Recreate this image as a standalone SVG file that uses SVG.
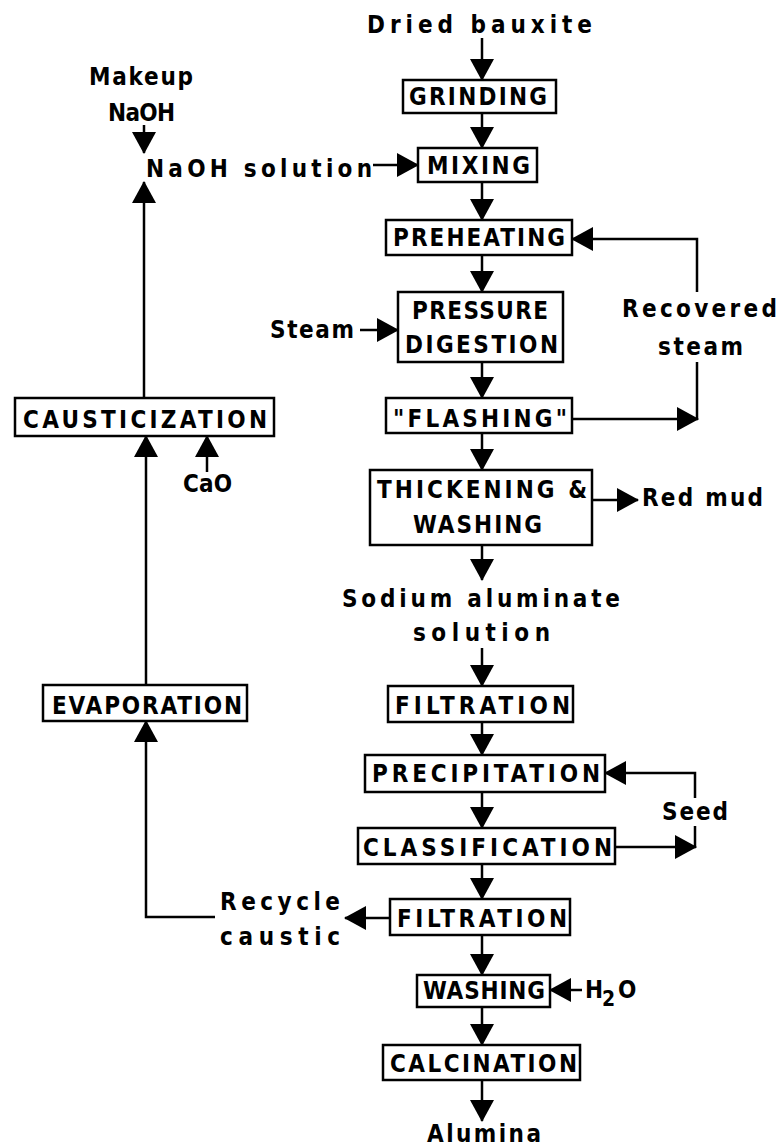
<svg xmlns="http://www.w3.org/2000/svg" width="783" height="1146" viewBox="0 0 783 1146">
<style>
  .box rect { fill: #fff; stroke: #000; stroke-width: 2.5; }
  text { font-family: "DejaVu Sans Condensed", "DejaVu Sans", "Liberation Sans", sans-serif; font-stretch: condensed; font-size: 24px; font-weight: bold; fill: #000; }
  .conn path, .conn line { fill: none; stroke: #000; stroke-width: 2.5; }
  .arr { marker-end: url(#ah); }
</style>
<defs>
  <marker id="ah" viewBox="0 0 22 24" refX="21" refY="12" markerWidth="22" markerHeight="24" markerUnits="userSpaceOnUse" orient="auto">
    <path d="M0,0 L22,12 L0,24 Z" fill="#000"/>
  </marker>
</defs>
<rect width="783" height="1146" fill="#fff"/>

<g id="connectors" class="conn">
  <line class="arr" x1="482" y1="38" x2="482" y2="80"/>
  <line class="arr" x1="482" y1="113" x2="482" y2="148"/>
  <line class="arr" x1="373" y1="165" x2="418" y2="165"/>
  <line class="arr" x1="482" y1="182" x2="482" y2="220"/>
  <line class="arr" x1="482" y1="255" x2="482" y2="292"/>
  <line class="arr" x1="360" y1="330" x2="398" y2="330"/>
  <line class="arr" x1="482" y1="362" x2="482" y2="398"/>
  <line class="arr" x1="572" y1="419" x2="698" y2="419"/>
  <line x1="697" y1="420" x2="697" y2="362"/>
  <path class="arr" d="M697,292 V239 H572"/>
  <line class="arr" x1="482" y1="433" x2="482" y2="470"/>
  <line class="arr" x1="592" y1="500" x2="638" y2="500"/>
  <line class="arr" x1="482" y1="545" x2="482" y2="580"/>
  <line class="arr" x1="482" y1="648" x2="482" y2="686"/>
  <line class="arr" x1="482" y1="722" x2="482" y2="755"/>
  <line class="arr" x1="482" y1="792" x2="482" y2="828"/>
  <line class="arr" x1="615" y1="847" x2="696" y2="847"/>
  <line x1="695" y1="848" x2="695" y2="826"/>
  <path class="arr" d="M695,798 V773 H605"/>
  <line class="arr" x1="482" y1="864" x2="482" y2="899"/>
  <line class="arr" x1="390" y1="918" x2="345" y2="918"/>
  <path class="arr" d="M215,917 H146 V721"/>
  <line class="arr" x1="482" y1="935" x2="482" y2="975"/>
  <line class="arr" x1="582" y1="990" x2="550" y2="990"/>
  <line class="arr" x1="482" y1="1007" x2="482" y2="1045"/>
  <line class="arr" x1="482" y1="1080" x2="482" y2="1121"/>
  <line class="arr" x1="146" y1="685" x2="146" y2="436"/>
  <line class="arr" x1="207" y1="472" x2="207" y2="436"/>
  <line class="arr" x1="144" y1="398" x2="144" y2="182"/>
  <line class="arr" x1="144" y1="125" x2="144" y2="153"/>
</g>

<g id="n-dried"><text x="367" y="33" textLength="225" lengthAdjust="spacing">Dried bauxite</text></g>
<g id="n-grinding" class="box"><rect x="403" y="80" width="153" height="33"/><text x="409" y="105" textLength="138" lengthAdjust="spacing">GRINDING</text></g>
<g id="n-mixing" class="box"><rect x="418" y="148" width="119" height="34"/><text x="427" y="174" textLength="103" lengthAdjust="spacing">MIXING</text></g>
<g id="n-preheating" class="box"><rect x="386" y="220" width="186" height="35"/><text x="393" y="246" textLength="172" lengthAdjust="spacing">PREHEATING</text></g>
<g id="n-digestion" class="box"><rect x="398" y="292" width="165" height="70"/><text x="412" y="319" textLength="136" lengthAdjust="spacing">PRESSURE</text><text x="405" y="353" textLength="153" lengthAdjust="spacing">DIGESTION</text></g>
<g id="n-flashing" class="box"><rect x="386" y="398" width="186" height="35"/><text x="393" y="427" textLength="174" lengthAdjust="spacing">"FLASHING"</text></g>
<g id="n-thickening" class="box"><rect x="370" y="470" width="222" height="75"/><text x="377" y="498" textLength="210" lengthAdjust="spacing">THICKENING &amp;</text><text x="413" y="533" textLength="129" lengthAdjust="spacing">WASHING</text></g>
<g id="n-sodium"><text x="342" y="607" textLength="278" lengthAdjust="spacing">Sodium aluminate</text><text x="413" y="641" textLength="137" lengthAdjust="spacing">solution</text></g>
<g id="n-filtration1" class="box"><rect x="388" y="686" width="185" height="36"/><text x="395" y="714" textLength="175" lengthAdjust="spacing">FILTRATION</text></g>
<g id="n-precipitation" class="box"><rect x="365" y="755" width="240" height="37"/><text x="372" y="782" textLength="228" lengthAdjust="spacing">PRECIPITATION</text></g>
<g id="n-classification" class="box"><rect x="358" y="828" width="257" height="36"/><text x="363" y="856" textLength="249" lengthAdjust="spacing">CLASSIFICATION</text></g>
<g id="n-filtration2" class="box"><rect x="390" y="899" width="180" height="36"/><text x="397" y="927" textLength="170" lengthAdjust="spacing">FILTRATION</text></g>
<g id="n-washing" class="box"><rect x="417" y="975" width="133" height="32"/><text x="423" y="999" textLength="122" lengthAdjust="spacing">WASHING</text></g>
<g id="n-calcination" class="box"><rect x="383" y="1045" width="197" height="35"/><text x="390" y="1072" textLength="187" lengthAdjust="spacing">CALCINATION</text></g>
<g id="n-alumina"><text x="427" y="1142" textLength="114" lengthAdjust="spacing">Alumina</text></g>

<g id="n-makeup"><text x="89" y="85" textLength="104" lengthAdjust="spacing">Makeup</text><text x="108" y="121" textLength="67" lengthAdjust="spacing">NaOH</text></g>
<g id="n-naoh"><text x="146" y="177" textLength="226" lengthAdjust="spacing">NaOH solution</text></g>
<g id="n-caust" class="box"><rect x="15" y="398" width="259" height="38"/><text x="23" y="428" textLength="244" lengthAdjust="spacing">CAUSTICIZATION</text></g>
<g id="n-cao"><text x="183" y="492" textLength="49" lengthAdjust="spacing">CaO</text></g>
<g id="n-evap" class="box"><rect x="43" y="685" width="204" height="36"/><text x="52" y="714" textLength="190" lengthAdjust="spacing">EVAPORATION</text></g>
<g id="n-recycle"><text x="220" y="910" textLength="120" lengthAdjust="spacing">Recycle</text><text x="220" y="945" textLength="120" lengthAdjust="spacing">caustic</text></g>
<g id="n-steam"><text x="270" y="338" textLength="84" lengthAdjust="spacing">Steam</text></g>
<g id="n-recovered"><text x="622" y="317" textLength="155" lengthAdjust="spacing">Recovered</text><text x="658" y="355" textLength="85" lengthAdjust="spacing">steam</text></g>
<g id="n-redmud"><text x="642" y="506" textLength="121" lengthAdjust="spacing">Red mud</text></g>
<g id="n-seed"><text x="662" y="820" textLength="66" lengthAdjust="spacing">Seed</text></g>
<g id="n-h2o"><text x="585" y="998">H<tspan x="602" y="1006" font-size="21">2</tspan><tspan x="618" y="998">O</tspan></text></g>
</svg>
